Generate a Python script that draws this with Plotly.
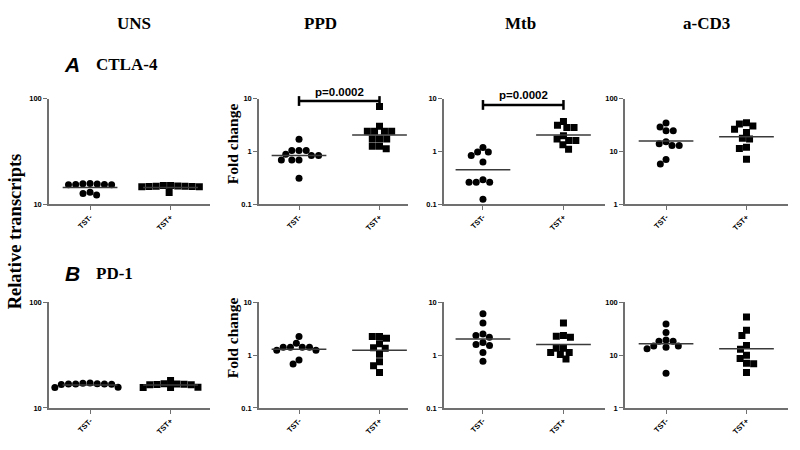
import math
import numpy as np
import plotly.graph_objects as go

# ---------------- data ----------------
categories = ["TST-", "TST+"]
stimuli = ["UNS", "PPD", "Mtb", "a-CD3"]

# CTLA-4 (row A)
ctla4_uns_neg = [15.6, 15.4, 15.3, 15.4, 15.5, 15.3, 15.7, 13.0, 12.2, 12.6]
ctla4_uns_pos = [14.8, 14.6, 14.9, 15.0, 14.7, 15.0, 14.8, 14.6, 14.7, 12.9]
ctla4_ppd_neg = [1.69, 1.04, 1.04, 1.04, 0.88, 0.84, 0.84, 0.69, 0.69, 0.69, 0.31]
ctla4_ppd_pos = [7.1, 3.0, 2.4, 2.4, 2.4, 2.4, 1.72, 1.72, 1.72, 1.25, 1.25, 1.12]
ctla4_mtb_neg = [0.97, 0.97, 1.19, 0.84, 0.63, 0.29, 0.26, 0.26, 0.26, 0.124]
ctla4_mtb_pos = [1.98, 3.12, 2.82, 2.82, 3.70, 1.60, 1.60, 1.72, 1.33, 1.10]
ctla4_cd3_neg = [29.0, 34.4, 24.5, 24.5, 15.3, 12.9, 12.9, 13.9, 7.0, 5.8]
ctla4_cd3_pos = [34.9, 30.3, 33.0, 22.8, 26.3, 17.2, 17.7, 12.0, 11.4, 7.1]
ctla4_centre = [[14.4, 14.4], [0.84, 2.04], [0.45, 2.04], [15.8, 19.0]]

# PD-1 (row B)
pd1_uns_neg = [16.9, 16.8, 16.9, 17.1, 17.2, 16.7, 16.9, 17.0, 15.6, 15.7]
pd1_uns_pos = [16.6, 16.8, 16.9, 16.6, 17.0, 18.2, 15.6, 15.7, 15.6, 16.7]
pd1_ppd_neg = [1.42, 1.42, 1.24, 1.69, 1.24, 2.25, 1.42, 1.42, 0.68, 0.81]
pd1_ppd_pos = [2.25, 2.09, 2.25, 1.38, 1.64, 1.36, 1.04, 0.75, 0.63, 0.47]
pd1_mtb_neg = [6.07, 4.08, 2.35, 2.18, 2.51, 1.74, 1.53, 1.60, 1.12, 0.77]
pd1_mtb_pos = [4.08, 2.35, 2.18, 2.28, 1.36, 1.36, 1.12, 1.13, 1.03, 0.85]
pd1_cd3_neg = [39.1, 27.0, 19.5, 14.9, 14.2, 18.4, 18.4, 14.9, 13.3, 4.57]
pd1_cd3_pos = [52.7, 29.8, 23.5, 15.3, 12.9, 10.0, 8.66, 7.0, 6.9, 4.7]
pd1_centre = [[16.5, 16.5], [1.29, 1.24], [2.03, 1.60], [16.4, 13.3]]

y_tick_vals = [[10, 100], [0.1, 1, 10], [0.1, 1, 10], [1, 10, 100]]
y_tick_text = [["10", "100"], ["0.1", "1", "10"], ["0.1", "1", "10"], ["1", "10", "100"]]
p_labels = {1: "p=0.0002", 2: "p=0.0002"}   # CTLA-4 PPD and Mtb

rows = [
    [(ctla4_uns_neg, ctla4_uns_pos), (ctla4_ppd_neg, ctla4_ppd_pos),
     (ctla4_mtb_neg, ctla4_mtb_pos), (ctla4_cd3_neg, ctla4_cd3_pos)],
    [(pd1_uns_neg, pd1_uns_pos), (pd1_ppd_neg, pd1_ppd_pos),
     (pd1_mtb_neg, pd1_mtb_pos), (pd1_cd3_neg, pd1_cd3_pos)],
]
centres = [ctla4_centre, pd1_centre]

# ---------------- layout geometry (pixels) ----------------
W, H = 800, 450
col_px = [(49, 210), (259, 408), (444, 605), (625, 788)]
col_xrange = [[-0.51, 1.49], [-0.497, 1.354], [-0.484, 1.516], [-0.51, 1.516]]
row_px = [(96.5, 204.3), (304.5, 412.2)]
col_yrange = [[1, 2], [-1, 1], [-1, 1], [0, 2]]
PX_PER_UNIT = 80.5
DIAM = 7.2


def py(y):
    return 1 - y / H


def swarm(vals, px_per_dec):
    ys = np.log10(np.array(vals, dtype=float)) * px_per_dec
    order = np.argsort(-ys, kind="stable")
    placed = []
    xs = np.zeros(len(vals))
    d = DIAM
    for i in order:
        y = ys[i]
        cands = [0.0]
        for (qx, qy) in placed:
            dy = abs(qy - y)
            if dy < d:
                dx = math.sqrt(d * d - dy * dy)
                cands += [qx - dx, qx + dx]
        cands.sort(key=lambda c: (round(abs(c), 6), c))
        for c in cands:
            if all((c - qx) ** 2 + (y - qy) ** 2 >= d * d - 1e-6 for qx, qy in placed):
                xs[i] = c
                break
        placed.append((xs[i], y))
    return xs / PX_PER_UNIT


fig = go.Figure()
layout = dict(width=W, height=H, margin=dict(l=0, r=0, t=0, b=0),
              paper_bgcolor="white", plot_bgcolor="white", showlegend=False)
shapes = []
annotations = []

AX_COL = "#707070"
tick_font = dict(family="Liberation Sans", size=7.5, color="black", weight="bold")


def note(x, y, text, font, xref="paper", angle=0):
    annotations.append(dict(xref=xref, yref="paper", x=x, y=y, text=text, showarrow=False,
                            xanchor="center", yanchor="middle", textangle=angle, font=font))


for r in range(2):
    for c in range(4):
        k = r * 4 + c + 1
        xa = "x" if k == 1 else f"x{k}"
        ya = "y" if k == 1 else f"y{k}"
        x0, x1 = col_px[c]
        ytop, ybot = row_px[r]
        dec = (col_yrange[c][1] - col_yrange[c][0])
        px_per_dec = (ybot - ytop) / dec
        neg, pos = rows[r][c]
        for gi, (vals, sym) in enumerate([(neg, "circle"), (pos, "square")]):
            offs = swarm(vals, px_per_dec)
            fig.add_trace(go.Scatter(
                x=gi + offs, y=vals, mode="markers", xaxis=xa, yaxis=ya,
                marker=dict(symbol=sym, size=7, color="black", line=dict(width=0)),
                hoverinfo="skip"))
            cv = centres[r][c][gi]
            fig.add_trace(go.Scatter(
                x=[gi - 0.34, gi + 0.34], y=[cv, cv], mode="lines",
                xaxis=xa, yaxis=ya, line=dict(color="#3a3a3a", width=1.5),
                hoverinfo="skip"))
        layout["xaxis" if k == 1 else f"xaxis{k}"] = dict(
            domain=[x0 / W, x1 / W], range=col_xrange[c], anchor=ya,
            tickvals=[0, 1], ticktext=categories, tickangle=-45,
            showline=True, linecolor=AX_COL, linewidth=1.5,
            ticks="outside", ticklen=4, tickwidth=1.2, tickcolor=AX_COL,
            showgrid=False, zeroline=False, tickfont=tick_font)
        layout["yaxis" if k == 1 else f"yaxis{k}"] = dict(
            domain=[py(ybot), py(ytop)], type="log", range=col_yrange[c], anchor=xa,
            tickvals=y_tick_vals[c], ticktext=y_tick_text[c],
            showline=True, linecolor=AX_COL, linewidth=1.5,
            ticks="outside", ticklen=4, tickwidth=1.2, tickcolor=AX_COL,
            showgrid=False, zeroline=False, tickfont=tick_font)
        if r == 0 and c in p_labels:
            ymid, ylo, yhi, ytxt = (99, 94, 104, 91) if c == 1 else (103, 98, 108, 94)
            for (ax0, ay0, ax1, ay1) in [(0, ymid, 1, ymid), (0, ylo, 0, yhi), (1, ylo, 1, yhi)]:
                shapes.append(dict(type="line", xref=xa, yref="paper",
                                   x0=ax0, x1=ax1, y0=py(ay0), y1=py(ay1),
                                   line=dict(color="black", width=2.5)))
            note(0.5, py(ytxt - 1), f"<b>{p_labels[c]}</b>",
                 dict(family="Liberation Sans", size=11.5, color="black"), xref=xa)

serif = "Liberation Serif"
head_x = [134, 320, 520, 706]
for name, hx in zip(stimuli, head_x):
    note(hx / W, py(20), f"<b>{name}</b>", dict(family=serif, size=17, color="black"))

for letter, gene, ly, gx in [("A", "CTLA-4", 62, 127), ("B", "PD-1", 275, 115)]:
    note(72 / W, py(ly), f"<b><i>{letter}</i></b>",
         dict(family="Liberation Sans", size=21, color="black"))
    note(gx / W, py(ly), f"<b>{gene}</b>", dict(family=serif, size=17, color="black"))

note(15 / W, py(232), "<b>Relative transcripts</b>",
     dict(family=serif, size=18.5, color="black"), angle=-90)
for fy in (142, 340):
    note(232 / W, py(fy), "<b>Fold change</b>",
         dict(family=serif, size=15.5, color="black"), angle=-90)

layout["shapes"] = shapes
layout["annotations"] = annotations
fig.update_layout(**layout)
fig.write_html("out.html", config={"displayModeBar": False},
               post_script="document.body.style.margin='0';")
